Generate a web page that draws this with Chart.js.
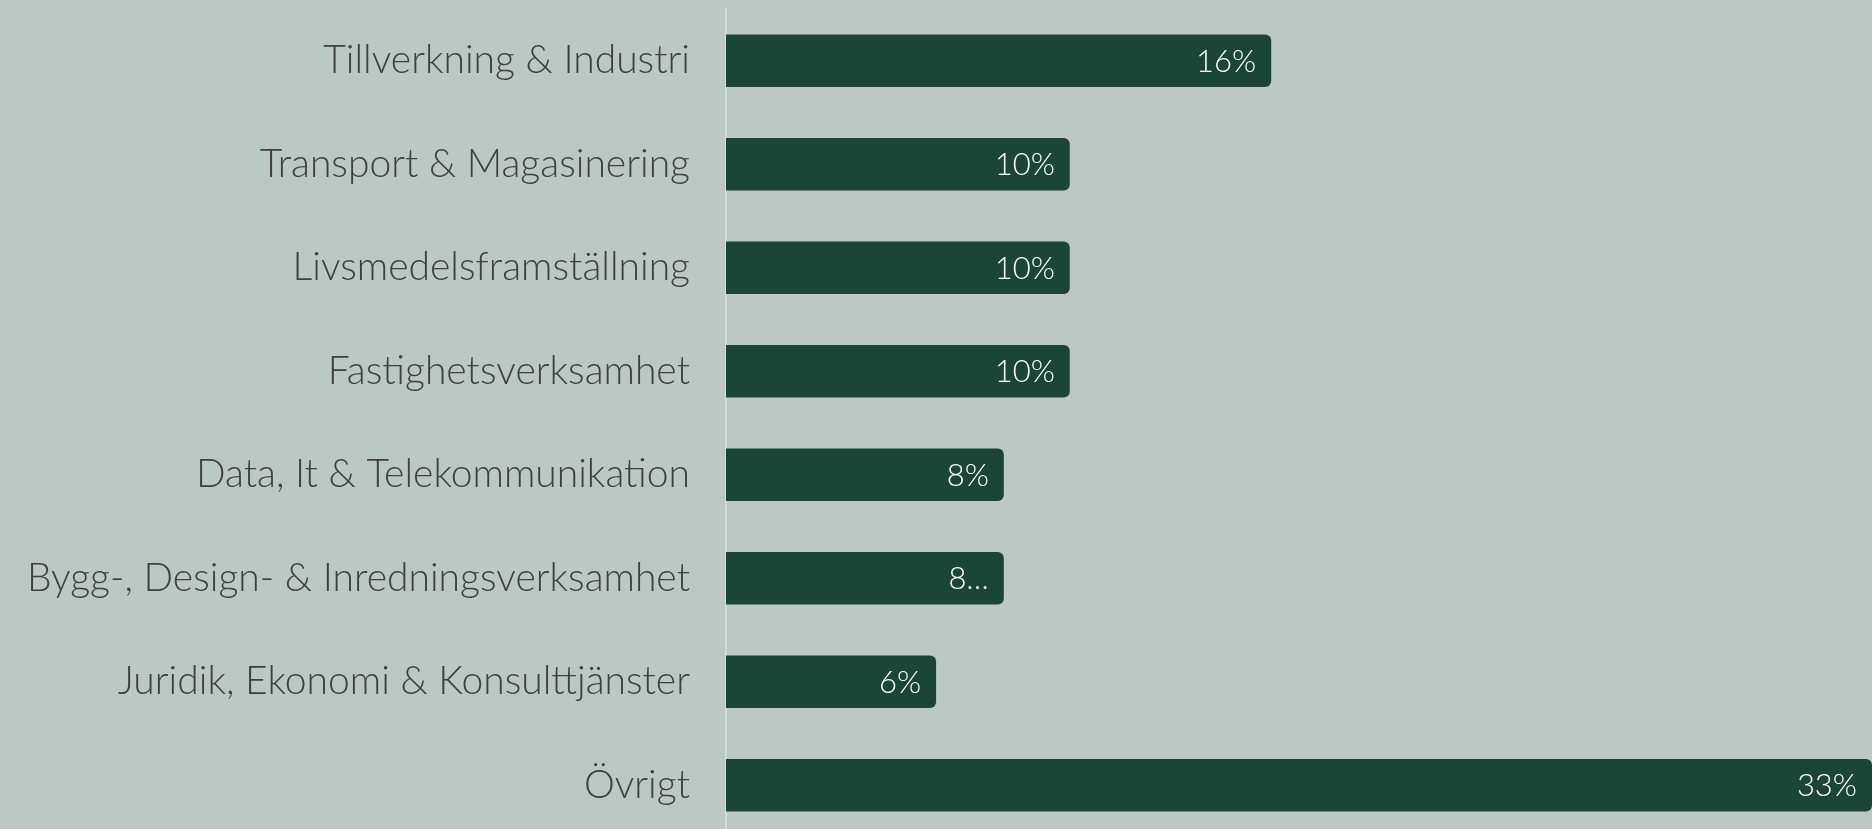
<!DOCTYPE html>
<html lang="sv">
<head>
<meta charset="utf-8">
<title>Branscher</title>
<script src="https://cdn.jsdelivr.net/npm/chart.js@4/dist/chart.umd.min.js"></script>
<style>
  html, body {
    margin: 0;
    padding: 0;
    background: #bcc8c3;
    overflow: hidden;
  }
  #wrap {
    position: relative;
    width: 1872px;
    height: 837px;
  }
</style>
</head>
<body>
<div id="wrap">
  <canvas id="chart"></canvas>
</div>
<script>
//
// DATEN
//
const categories = [
  "Tillverkning & Industri",
  "Transport & Magasinering",
  "Livsmedelsframställning",
  "Fastighetsverksamhet",
  "Data, It & Telekommunikation",
  "Bygg-, Design- & Inredningsverksamhet",
  "Juridik, Ekonomi & Konsulttjänster",
  "Övrigt"
];
const shares = [15.7, 9.9, 9.9, 9.9, 8.0, 8.0, 6.05, 33.0];
const shareLabels = ["16%", "10%", "10%", "10%", "8%", "8…", "6%", "33%"];

const barColor = "#1b4537";
const fontFamily = "Lato, 'Open Sans', sans-serif";

// Werte-Labels innen am Balkenende
const barLabels = {
  id: "barLabels",
  afterDatasetsDraw(chart) {
    const ctx = chart.ctx;
    const meta = chart.getDatasetMeta(0);
    ctx.save();
    ctx.fillStyle = "#ffffff";
    ctx.font = "300 31px " + fontFamily;
    ctx.textAlign = "right";
    ctx.textBaseline = "middle";
    meta.data.forEach((bar, i) => {
      ctx.fillText(shareLabels[i], bar.x - 15, bar.y + 1);
    });
    ctx.restore();
  }
};

const ctx = document.getElementById("chart").getContext("2d");

new Chart(ctx, {
  type: "bar",
  data: {
    labels: categories,
    datasets: [{
      data: shares,
      backgroundColor: barColor,
      borderRadius: 6,
      borderSkipped: "start",
      categoryPercentage: 0.508,
      barPercentage: 1
    }]
  },
  options: {
    indexAxis: "y",
    responsive: true,
    maintainAspectRatio: false,
    animation: false,
    layout: {
      padding: { top: 9, right: 0, bottom: 0, left: 0 }
    },
    plugins: {
      legend: { display: false },
      tooltip: { enabled: false }
    },
    scales: {
      x: {
        display: false,
        min: 0,
        max: 33
      },
      y: {
        // feste Breite, kein Extra-Abstand oben/unten
        afterFit: (scale) => {
          scale.width = 726;
          scale.paddingTop = 0;
          scale.paddingBottom = 0;
        },
        grid: { display: false, drawTicks: false },
        border: { display: true, color: "#d6dad8", width: 2 },
        ticks: {
          padding: 36,
          color: "#404040",
          font: { family: fontFamily, size: 39, weight: "300" }
        }
      }
    }
  },
  plugins: [barLabels]
});
</script>
</body>
</html>
